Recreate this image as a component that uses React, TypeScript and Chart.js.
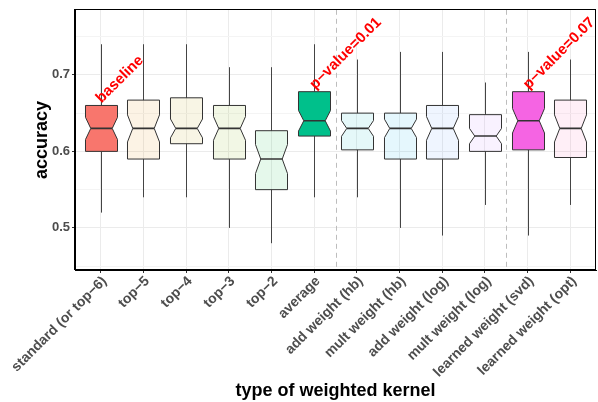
import React, { useEffect, useRef } from "react";
import { Chart, registerables } from "chart.js";
Chart.register(...registerables);

const FONT = "'Liberation Sans', Arial, Helvetica, sans-serif";

const categories = [
  "standard (or top\u22126)",
  "top\u22125",
  "top\u22124",
  "top\u22123",
  "top\u22122",
  "average",
  "add weight (hb)",
  "mult weight (hb)",
  "add weight (log)",
  "mult weight (log)",
  "learned weight (svd)",
  "learned weight (opt)",
];

const whiskerHigh = [0.74, 0.74, 0.74, 0.71, 0.71, 0.74, 0.72, 0.73, 0.73, 0.69, 0.73, 0.72];
const q3 = [0.66, 0.667, 0.67, 0.66, 0.627, 0.678, 0.65, 0.65, 0.66, 0.648, 0.678, 0.667];
const median = [0.63, 0.63, 0.63, 0.63, 0.59, 0.64, 0.63, 0.63, 0.63, 0.62, 0.64, 0.63];
const q1 = [0.6, 0.59, 0.61, 0.59, 0.55, 0.62, 0.602, 0.59, 0.59, 0.6, 0.602, 0.592];
const whiskerLow = [0.52, 0.54, 0.54, 0.5, 0.48, 0.54, 0.54, 0.5, 0.49, 0.53, 0.49, 0.53];
const notchHalf = [0.0145, 0.0177, 0.0123, 0.0155, 0.019, 0.0135, 0.0103, 0.012, 0.0155, 0.01, 0.016, 0.0177];

const fills = [
  "#F8766D",
  "rgba(222,140,0,0.1)",
  "rgba(183,159,0,0.1)",
  "rgba(124,174,0,0.1)",
  "rgba(0,186,56,0.1)",
  "#00C08B",
  "rgba(0,191,196,0.1)",
  "rgba(0,180,240,0.1)",
  "rgba(97,156,255,0.1)",
  "rgba(199,124,255,0.1)",
  "#F564E3",
  "rgba(255,100,176,0.1)",
];

const annotationIndex = [0, 5, 10];
const annotationText = ["baseline", "p\u2212value=0.01", "p\u2212value=0.07"];

const separators = [5.5, 9.5];

const yMajorTicks = [0.5, 0.6, 0.7];
const yMinorTicks = [0.45, 0.55, 0.65, 0.75];
const yMin = 0.445;
const yMax = 0.785;

const isMajor = (v: number) => yMajorTicks.some((m) => Math.abs(m - v) < 1e-6);

export default function App() {
  const ref = useRef<HTMLCanvasElement>(null);

  useEffect(() => {
    document.body.style.margin = "0";
    const canvas = ref.current!;

    const boxPlugin = {
      id: "notchedBoxes",
      afterDatasetsDraw(chart: any) {
        const { ctx, chartArea: ca, scales } = chart;
        const x = scales.x;
        const y = scales.y;
        ctx.save();
        ctx.beginPath();
        ctx.rect(ca.left, ca.top, ca.right - ca.left, ca.bottom - ca.top);
        ctx.clip();

        // dashed separators
        ctx.save();
        ctx.strokeStyle = "#BDBDBD";
        ctx.lineWidth = 1;
        ctx.setLineDash([5, 4]);
        separators.forEach((s) => {
          const px = Math.round(x.getPixelForValue(s)) + 0.5;
          ctx.beginPath();
          ctx.moveTo(px, ca.top);
          ctx.lineTo(px, ca.bottom);
          ctx.stroke();
        });
        ctx.restore();

        const hw = x.getPixelForValue(0.375) - x.getPixelForValue(0);
        const inset = hw * 0.33;
        categories.forEach((_, i) => {
          const cx = Math.round(x.getPixelForValue(i)) + 0.5;
          const yq3 = y.getPixelForValue(q3[i]);
          const yq1 = y.getPixelForValue(q1[i]);
          const ym = y.getPixelForValue(median[i]);
          const ynh = y.getPixelForValue(median[i] + notchHalf[i]);
          const ynl = y.getPixelForValue(median[i] - notchHalf[i]);
          const ywh = y.getPixelForValue(whiskerHigh[i]);
          const ywl = y.getPixelForValue(whiskerLow[i]);

          // whiskers
          ctx.strokeStyle = "#444444";
          ctx.lineWidth = 1;
          ctx.beginPath();
          ctx.moveTo(cx, yq3);
          ctx.lineTo(cx, ywh);
          ctx.moveTo(cx, yq1);
          ctx.lineTo(cx, ywl);
          ctx.stroke();

          // notched box
          const l = cx - hw;
          const r = cx + hw;
          ctx.beginPath();
          ctx.moveTo(l, yq3);
          ctx.lineTo(r, yq3);
          ctx.lineTo(r, ynh);
          ctx.lineTo(r - inset, ym);
          ctx.lineTo(r, ynl);
          ctx.lineTo(r, yq1);
          ctx.lineTo(l, yq1);
          ctx.lineTo(l, ynl);
          ctx.lineTo(l + inset, ym);
          ctx.lineTo(l, ynh);
          ctx.closePath();
          ctx.fillStyle = fills[i];
          ctx.fill();
          ctx.strokeStyle = "#333333";
          ctx.lineWidth = 1;
          ctx.stroke();

          // median
          ctx.lineWidth = 1.6;
          ctx.beginPath();
          ctx.moveTo(l + inset, ym);
          ctx.lineTo(r - inset, ym);
          ctx.stroke();
        });

        // annotations
        ctx.fillStyle = "#FF0000";
        ctx.font = `bold 15px ${FONT}`;
        ctx.textAlign = "left";
        ctx.textBaseline = "alphabetic";
        annotationIndex.forEach((idx, k) => {
          const px = x.getPixelForValue(idx);
          const py = y.getPixelForValue(q3[idx]);
          ctx.save();
          ctx.translate(px + 1, py - 2);
          ctx.rotate(-Math.PI / 4);
          ctx.fillText(annotationText[k], 0, 0);
          ctx.restore();
        });
        ctx.restore();
      },
      afterDraw(chart: any) {
        const { ctx, chartArea: ca } = chart;
        const l = Math.round(ca.left);
        const t = Math.round(ca.top);
        const r = Math.round(ca.right);
        const b = Math.round(ca.bottom);
        ctx.save();
        ctx.fillStyle = "#000000";
        ctx.fillRect(l - 1, t - 1, r - l + 1, 1);
        ctx.fillRect(r - 1, t - 1, 1, b - t + 1);
        ctx.fillRect(l - 1, t - 1, 1, b - t + 1);
        ctx.fillRect(l - 1, b - 1, r - l + 1, 1);
        ctx.restore();
      },
    };

    const chart = new Chart(canvas, {
      type: "scatter",
      data: {
        datasets: [
          {
            data: median.map((m, i) => ({ x: i, y: m })),
            pointRadius: 0,
            showLine: false,
          },
        ],
      },
      options: {
        responsive: false,
        animation: false,
        devicePixelRatio: 1,
        layout: { padding: { top: 7, right: 2, left: 0, bottom: 0 } },
        plugins: { legend: { display: false }, tooltip: { enabled: false } },
        scales: {
          x: {
            type: "linear",
            min: -0.6,
            max: categories.length - 1 + 0.6,
            afterBuildTicks: (s: any) => {
              s.ticks = categories.map((_, i) => ({ value: i }));
            },
            afterFit: (s: any) => {
              s.height = 132;
            },
            ticks: {
              autoSkip: false,
              minRotation: 45,
              maxRotation: 45,
              padding: 0,
              labelOffset: 4,
              color: "#4D4D4D",
              font: { family: FONT, size: 14, weight: "bold" },
              callback: (v: any) => categories[Math.round(Number(v))],
            },
            grid: { color: "#EBEBEB", lineWidth: 1, tickLength: 3, tickColor: "#333333" },
            border: { display: true, color: "#000000", width: 1 },
            title: {
              display: true,
              text: "type of weighted kernel",
              color: "#000000",
              font: { family: FONT, size: 18, weight: "bold" },
              padding: { top: 2, bottom: 0 },
            },
          },
          y: {
            type: "linear",
            min: yMin,
            max: yMax,
            afterBuildTicks: (s: any) => {
              s.ticks = [...yMinorTicks, ...yMajorTicks]
                .sort((a, b) => a - b)
                .map((v) => ({ value: v }));
            },
            afterFit: (s: any) => {
              s.width = 75;
            },
            ticks: {
              padding: 2,
              color: "#4D4D4D",
              font: { family: FONT, size: 13, weight: "bold" },
              callback: (v: any) => (isMajor(Number(v)) ? Number(v).toFixed(1) : ""),
            },
            grid: {
              lineWidth: 1,
              tickLength: 3,
              color: (c: any) => (c.tick && isMajor(c.tick.value) ? "#EBEBEB" : "#F4F4F4"),
              tickColor: (c: any) => (c.tick && isMajor(c.tick.value) ? "#333333" : "rgba(0,0,0,0)"),
            },
            border: { display: true, color: "#000000", width: 1 },
            title: {
              display: true,
              text: "accuracy",
              color: "#000000",
              font: { family: FONT, size: 18, weight: "bold" },
              padding: { top: 31, bottom: 0 },
            },
          },
        },
      },
      plugins: [boxPlugin],
    } as any);

    return () => chart.destroy();
  }, []);

  return (
    <div style={{ position: "absolute", left: 0, top: 0, width: 598, height: 402 }}>
      <canvas ref={ref} width={598} height={402} style={{ width: 598, height: 402, display: "block" }} />
    </div>
  );
}
